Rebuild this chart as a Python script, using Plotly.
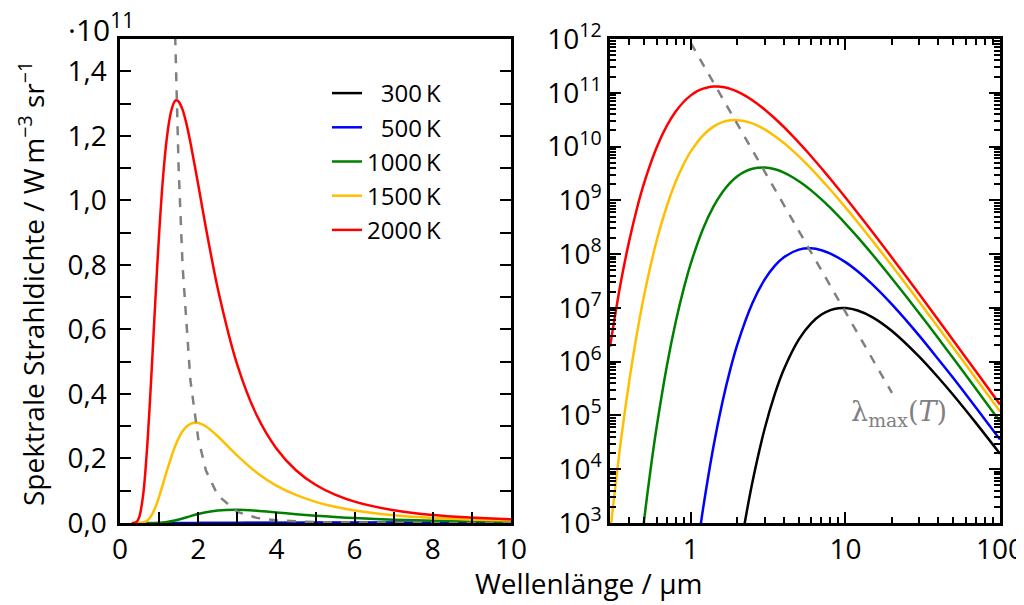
import plotly.graph_objects as go

# Wellenlänge in µm, spektrale Strahldichte in W m^-3 sr^-1
wl_300 = [2.0, 2.2, 2.5, 3.0, 3.5, 4.0, 5, 6, 7, 8, 9, 10, 12, 15, 20, 30, 40, 50, 70, 100]
sr_300 = [1.43e2, 7.87e2, 5.68e3, 5.59e4, 2.54e5, 7.22e5, 2.60e6, 5.17e6, 7.51e6, 9.08e6,
          9.83e6, 9.92e6, 8.96e6, 6.68e6, 3.72e6, 1.24e6, 5.02e5, 2.37e5, 7.20e4, 1.94e4]

wl_500 = [1.1, 1.2, 1.4, 1.6, 1.8, 2.0, 2.5, 3.0, 3.5, 4.0, 5, 6, 7, 8, 10, 12, 15, 20,
          30, 40, 50, 70, 100]
sr_500 = [3.22e2, 1.85e3, 2.62e4, 1.76e5, 7.19e5, 2.10e6, 1.22e7, 3.35e7, 6.10e7, 8.74e7,
          1.21e8, 1.28e8, 1.18e8, 1.02e8, 7.10e7, 4.79e7, 2.70e7, 1.16e7, 3.05e6, 1.10e6,
          4.90e5, 1.39e5, 3.57e4]

wl_1000 = [0.45, 0.5, 0.55, 0.6, 0.7, 0.8, 0.9, 1.0, 1.2, 1.4, 1.6, 1.8, 2.0, 2.2, 2.5,
           3.0, 3.5, 4.0, 4.5, 5, 5.5, 6, 7, 8, 10, 12, 15, 20, 30, 40, 50, 70, 100]
sr_1000 = [84, 1.21e3, 1.03e4, 5.90e4, 8.39e5, 5.62e6, 2.30e7, 6.72e7, 2.97e8, 7.62e8,
           1.41e9, 2.13e9, 2.80e9, 3.34e9, 3.87e9, 4.08e9, 3.78e9, 3.28e9, 2.75e9, 2.27e9,
           1.87e9, 1.53e9, 1.04e9, 7.21e8, 3.70e8, 2.07e8, 9.74e7, 3.53e7, 7.96e6, 2.69e6,
           1.14e6, 3.11e5, 7.70e4]

wl_1500 = [0.3, 0.35, 0.4, 0.45, 0.5, 0.6, 0.7, 0.8, 0.9, 1.0, 1.2, 1.4, 1.6, 1.8, 2.0,
           2.2, 2.5, 3.0, 3.5, 4.0, 4.5, 5, 5.5, 6, 7, 8, 10, 12, 15, 20, 30, 40, 50, 70, 100]
sr_1500 = [6.37e2, 2.84e4, 4.48e5, 3.57e6, 1.78e7, 1.75e8, 7.93e8, 2.26e9, 4.74e9, 8.13e9,
           1.62e10, 2.35e10, 2.84e10, 3.07e10, 3.10e10, 2.99e10, 2.69e10, 2.09e10, 1.56e10,
           1.16e10, 8.69e9, 6.56e9, 5.01e9, 3.88e9, 2.41e9, 1.57e9, 7.40e8, 3.91e8, 1.75e8,
           6.05e7, 1.30e7, 4.29e6, 1.80e6, 4.83e5, 1.18e5]

wl_2000 = [0.3, 0.35, 0.4, 0.45, 0.5, 0.6, 0.7, 0.8, 0.9, 1.0, 1.1, 1.2, 1.3, 1.4, 1.45,
           1.5, 1.6, 1.7, 1.8, 2.0, 2.2, 2.5, 3.0, 3.5, 4.0, 4.5, 5, 5.5, 6, 7, 8, 10, 12,
           15, 20, 30, 40, 50, 70, 100]
sr_2000 = [1.89e6, 2.69e7, 1.80e8, 7.36e8, 2.15e9, 9.50e9, 2.44e10, 4.52e10, 6.81e10,
           8.95e10, 1.070e11, 1.195e11, 1.272e11, 1.307e11, 1.310e11, 1.306e11, 1.281e11,
           1.237e11, 1.180e11, 1.049e11, 9.13e10, 7.27e10, 4.90e10, 3.33e10, 2.31e10,
           1.635e10, 1.185e10, 8.77e9, 6.61e9, 3.95e9, 2.49e9, 1.13e9, 5.83e8, 2.55e8,
           8.60e7, 1.81e7, 5.90e6, 2.46e6, 6.55e5, 1.60e5]

# Lage der Maxima (gestrichelte Linie)
wl_peak = [1.0, 1.2, 1.4, 1.5, 1.6, 1.8, 2.0, 2.2, 2.5, 3.0, 3.5, 4.0, 5, 6, 8, 10, 20]
sr_peak = [8.37e11, 3.36e11, 1.56e11, 1.10e11, 7.98e10, 4.43e10, 2.62e10, 1.62e10, 8.57e9,
           3.44e9, 1.59e9, 8.17e8, 2.68e8, 1.08e8, 2.55e7, 8.37e6, 2.62e5]

labels = ['\u2007300\u2009K', '\u2007500\u2009K', '1000\u2009K', '1500\u2009K', '2000\u2009K']
colors = ['#000000', '#0000ff', '#008000', '#ffbf00', '#ff0000']
curves = [(wl_300, sr_300), (wl_500, sr_500), (wl_1000, sr_1000),
          (wl_1500, sr_1500), (wl_2000, sr_2000)]

FONT = 'Open Sans'
FS = 28

# die Seite hat 8px Rand -> Fensterpixel in Papierkoordinaten umrechnen
W, H, OFF = 1016, 597, 8


def px(x):
    return (x - OFF) / W


def py(y):
    return 1 - (y - OFF) / H


fig = go.Figure()

for (wl, sr), name, col in zip(curves, labels, colors):
    # links: linear
    fig.add_trace(go.Scatter(x=wl, y=sr, mode='lines', name=name,
                             line=dict(color=col, width=2.5, shape='spline', smoothing=0.8),
                             xaxis='x', yaxis='y'))
    # rechts: doppelt logarithmisch
    fig.add_trace(go.Scatter(x=wl, y=sr, mode='lines', name=name, showlegend=False,
                             line=dict(color=col, width=2.5, shape='spline', smoothing=0.8),
                             xaxis='x2', yaxis='y2'))

for xa, ya in [('x', 'y'), ('x2', 'y2')]:
    fig.add_trace(go.Scatter(x=wl_peak, y=sr_peak, mode='lines', showlegend=False,
                             line=dict(color='#808080', width=2.5, dash='dash'),
                             xaxis=xa, yaxis=ya))

axis_common = dict(showline=True, linecolor='black', linewidth=2.5, ticks='inside',
                   tickcolor='black', tickwidth=2, showgrid=False, zeroline=False,
                   automargin=False, ticklabeloverflow='allow',
                   tickfont=dict(family=FONT, size=FS, color='black'))

y_vals = [i * 1e10 for i in range(15)]
y_text = [('%.1f' % (v / 1e11)).replace('.', ',') if i % 2 == 0 else ' '
          for i, v in enumerate(y_vals)]

log_minor_x = [0.3, 0.4, 0.5, 0.6, 0.7, 0.8, 0.9, 2, 3, 4, 5, 6, 7, 8, 9,
               20, 30, 40, 50, 60, 70, 80, 90]
log_minor_y = [m * 10 ** e for e in range(3, 12) for m in range(2, 10)]

fig.update_layout(
    width=W, height=H,
    margin=dict(l=0, r=0, t=0, b=0, autoexpand=False),
    paper_bgcolor='white', plot_bgcolor='white',
    font=dict(family=FONT, size=FS, color='black'),
    xaxis=dict(domain=[px(120), px(511)], range=[0, 10], anchor='y',
               tickvals=list(range(11)),
               ticktext=[str(i) if i % 2 == 0 else ' ' for i in range(11)],
               ticklen=11, mirror=True, **axis_common),
    xaxis3=dict(overlaying='x', side='top', anchor='y', range=[0, 10],
                tickvals=list(range(1, 10)), showticklabels=False, ticks='inside',
                ticklen=6, tickwidth=2, tickcolor='black', showline=False,
                showgrid=False, zeroline=False, automargin=False),
    yaxis=dict(domain=[py(523), py(39)], range=[0, 1.5e11], anchor='x',
               tickvals=y_vals, ticktext=y_text, ticklen=11, mirror='allticks',
               ticklabelstandoff=5, **axis_common),
    xaxis2=dict(domain=[px(610), px(1000)], type='log', range=[-0.5229, 2],
                anchor='y2', tickvals=[1, 10, 100], ticktext=['1', '10', '100'],
                ticklen=11, mirror='allticks',
                minor=dict(tickvals=log_minor_x, ticks='inside', ticklen=6,
                           tickwidth=2, tickcolor='black'),
                **axis_common),
    yaxis2=dict(domain=[py(523), py(39)], type='log', range=[3, 12], anchor='x2',
                tickvals=[10 ** e for e in range(3, 13)],
                ticktext=['10<sup>%d</sup>' % e for e in range(3, 13)],
                ticklen=11, mirror='allticks',
                minor=dict(tickvals=log_minor_y, ticks='inside', ticklen=6,
                           tickwidth=2, tickcolor='black'),
                **axis_common),
    legend=dict(x=px(327), y=py(71), xanchor='left', yanchor='top',
                bgcolor='rgba(0,0,0,0)', font=dict(family=FONT, size=24)),
    showlegend=True,
)

fig.add_annotation(text='Spektrale Strahldichte / W\u2009m<sup>\u22123</sup> sr<sup>\u22121</sup>',
                   xref='paper', yref='paper', x=px(31), y=py(284),
                   xanchor='center', yanchor='middle',
                   textangle=-90, showarrow=False, font=dict(family=FONT, size=FS))
fig.add_annotation(text='Wellenlänge / µm', xref='paper', yref='paper',
                   x=px(588), y=py(583), xanchor='center', yanchor='middle',
                   showarrow=False, font=dict(family=FONT, size=FS))
fig.add_annotation(text='\u00b710<sup>11</sup>', xref='paper', yref='paper',
                   x=px(66), y=py(28), xanchor='left', yanchor='middle',
                   showarrow=False, font=dict(family=FONT, size=30))
fig.add_annotation(text='\u03bb<sub>max</sub>(<i>T</i>)', xref='paper', yref='paper',
                   x=px(899), y=py(413), xanchor='center', yanchor='middle',
                   showarrow=False,
                   font=dict(family='DejaVu Serif', size=27, color='#808080'))

fig.write_html('out.html')
